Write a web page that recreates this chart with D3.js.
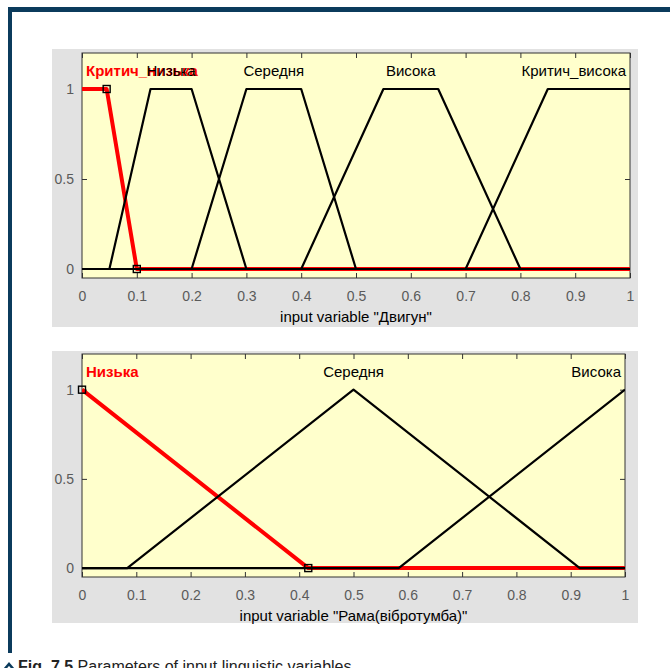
<!DOCTYPE html>
<html>
<head>
<meta charset="utf-8">
<script src="https://cdn.jsdelivr.net/npm/d3@7"></script>
<style>
  body { margin: 0; background: #fff; }
  svg { display: block; font-family: "Liberation Sans", Arial, sans-serif; }
</style>
</head>
<body>
<script>
// chart values
var xTicks = [0, 0.1, 0.2, 0.3, 0.4, 0.5, 0.6, 0.7, 0.8, 0.9, 1];
var yTicks = [0, 0.5, 1];

var engineTitle = 'input variable "Двигун"';
var engineTerms = ["Критич_низька", "Низька", "Середня", "Висока", "Критич_висока"];
var engineParams = [[0, 0, 0.045, 0.1], [0.05, 0.125, 0.2, 0.3], [0.2, 0.3, 0.4, 0.5], [0.4, 0.55, 0.65, 0.8], [0.7, 0.85, 1, 1]];
var engineMarkers = [[0.045, 1], [0.1, 0]];

var frameTitle = 'input variable "Рама(вібротумба)"';
var frameTerms = ["Низька", "Середня", "Висока"];
var frameParams = [[-0.4167, 0, 0.4167], [0.0833, 0.5, 0.9167], [0.5833, 1, 1.4167]];
var frameMarkers = [[0, 1], [0.4167, 0]];

var caption = "Parameters of input linguistic variables";

var svgWidth = 670;
var svgHeight = 668;

var svg = d3.select("body")
  .append("svg")
  .attr("width", svgWidth)
  .attr("height", svgHeight);

// page frame
svg.append("rect").attr("x", 8).attr("y", 7).attr("width", 662).attr("height", 5).attr("fill", "#0b3b5c");
svg.append("rect").attr("x", 8).attr("y", 7).attr("width", 4).attr("height", 646).attr("fill", "#0b3b5c");

// trapezoid / triangle membership
function toTrap(p) {
  return p.length === 3 ? [p[0], p[1], p[1], p[2]] : p;
}
function mf(p, x) {
  var a = p[0], b = p[1], c = p[2], d = p[3];
  var l = x < a ? 0 : (x < b ? (x - a) / (b - a) : 1);
  var r = x > d ? 0 : (x > c ? (d - x) / (d - c) : 1);
  return Math.max(0, Math.min(l, r));
}
function vertices(p) {
  var t = toTrap(p);
  var xs = [0, 1].concat(t.filter(v => v >= 0 && v <= 1));
  xs = Array.from(new Set(xs)).sort((a, b) => a - b);
  return xs.map(x => [x, mf(t, x)]);
}

function drawPanel(opt) {
  var g = svg.append("g");

  g.append("rect")
    .attr("x", opt.box[0]).attr("y", opt.box[1])
    .attr("width", opt.box[2]).attr("height", opt.box[3])
    .attr("fill", "#e2e2e2");

  var x = d3.scaleLinear().domain([0, 1]).range([opt.left, opt.right]);
  var y = d3.scaleLinear().domain([-0.05, 1.2]).range([opt.bottom, opt.top]);

  g.append("rect")
    .attr("x", opt.left).attr("y", opt.top)
    .attr("width", opt.right - opt.left).attr("height", opt.bottom - opt.top)
    .attr("fill", "#ffffcc");

  var clipId = "clip" + opt.id;
  g.append("clipPath").attr("id", clipId)
    .append("rect")
    .attr("x", opt.left).attr("y", opt.top)
    .attr("width", opt.right - opt.left).attr("height", opt.bottom - opt.top);

  // axes with inward ticks
  var xb = g.append("g")
    .attr("transform", `translate(0, ${opt.bottom})`)
    .call(d3.axisBottom(x).tickValues(xTicks).tickFormat(d3.format("")).tickSizeInner(-5).tickSizeOuter(0).tickPadding(13));
  var xt = g.append("g")
    .attr("transform", `translate(0, ${opt.top})`)
    .call(d3.axisTop(x).tickValues(xTicks).tickFormat("").tickSizeInner(-5).tickSizeOuter(0));
  var yl = g.append("g")
    .attr("transform", `translate(${opt.left}, 0)`)
    .call(d3.axisLeft(y).tickValues(yTicks).tickFormat(d3.format("")).tickSizeInner(-5).tickSizeOuter(0).tickPadding(8));
  var yr = g.append("g")
    .attr("transform", `translate(${opt.right}, 0)`)
    .call(d3.axisRight(y).tickValues(yTicks).tickFormat("").tickSizeInner(-5).tickSizeOuter(0));

  [xb, xt, yl, yr].forEach(function (a) {
    a.select(".domain").remove();
    a.selectAll(".tick line").attr("stroke", "#333");
    a.selectAll("text")
      .attr("fill", "#5a5a5a")
      .style("font-size", "14px")
      .style("font-family", '"Liberation Sans", Arial, sans-serif');
  });

  g.append("rect")
    .attr("x", opt.left).attr("y", opt.top)
    .attr("width", opt.right - opt.left).attr("height", opt.bottom - opt.top)
    .attr("fill", "none").attr("stroke", "#333").attr("stroke-width", 1);

  var line = d3.line().x(d => x(d[0])).y(d => y(d[1]));
  var plot = g.append("g").attr("clip-path", `url(#${clipId})`);

  // selected term first, others over it
  plot.append("path")
    .attr("d", line(vertices(opt.params[opt.sel])))
    .attr("fill", "none").attr("stroke", "#ff0000").attr("stroke-width", 4)
    .attr("stroke-linejoin", "round");

  opt.params.forEach(function (p, i) {
    if (i === opt.sel) return;
    plot.append("path")
      .attr("d", line(vertices(p)))
      .attr("fill", "none").attr("stroke", "#000").attr("stroke-width", 2.2)
      .attr("stroke-linejoin", "round");
  });

  g.selectAll(".mk")
    .data(opt.markers)
    .enter()
    .append("rect")
    .attr("x", d => x(d[0]) - 3.5)
    .attr("y", d => y(d[1]) - 3.5)
    .attr("width", 7).attr("height", 7)
    .attr("fill", "none").attr("stroke", "#000").attr("stroke-width", 1.4);

  // term labels centred over the plateau, kept inside the axes
  opt.terms.forEach(function (name, i) {
    var t = toTrap(opt.params[i]);
    var cx = x((Math.max(t[1], 0) + Math.min(t[2], 1)) / 2);
    var txt = g.append("text")
      .attr("y", y(1.1))
      .attr("dy", "0.35em")
      .attr("fill", i === opt.sel ? "#ff0000" : "#000")
      .style("font-size", "15px")
      .style("font-weight", i === opt.sel ? "bold" : "normal")
      .text(name);
    var w = txt.node().getComputedTextLength();
    var sx = cx - w / 2;
    sx = Math.max(opt.left + 4, Math.min(opt.right - 4 - w, sx));
    txt.attr("x", sx);
  });

  g.append("text")
    .attr("x", (opt.left + opt.right) / 2)
    .attr("y", opt.bottom + 44)
    .attr("text-anchor", "middle")
    .attr("fill", "#000")
    .style("font-size", "15px")
    .text(opt.title);
}

drawPanel({
  id: 1, box: [52, 49, 586, 278],
  left: 82, right: 630, top: 53, bottom: 278,
  terms: engineTerms, params: engineParams, markers: engineMarkers, sel: 0,
  title: engineTitle
});

drawPanel({
  id: 2, box: [52, 351, 586, 272],
  left: 82, right: 625, top: 354, bottom: 577,
  terms: frameTerms, params: frameParams, markers: frameMarkers, sel: 0,
  title: frameTitle
});

// caption, cut by the bottom edge
svg.append("path")
  .attr("d", "M3,671 L9,664 L15,671")
  .attr("fill", "none").attr("stroke", "#0b3b5c").attr("stroke-width", 2.5);

var cap = svg.append("text")
  .attr("x", 18).attr("y", 672)
  .attr("fill", "#222")
  .style("font-size", "16px");
cap.append("tspan").style("font-weight", "bold").text("Fig. 7.5 ");
cap.append("tspan").text(caption);
</script>
</body>
</html>
